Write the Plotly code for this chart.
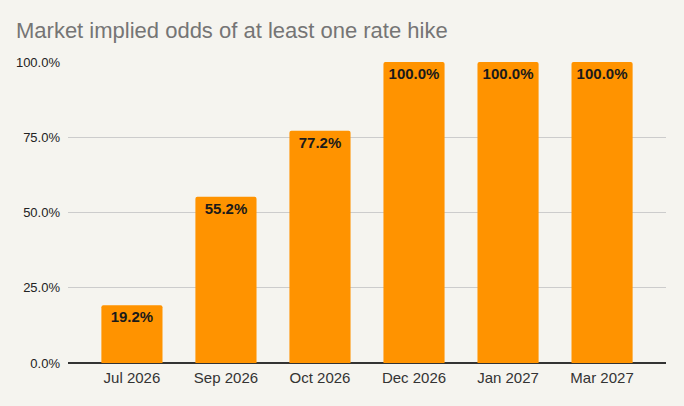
import plotly.graph_objects as go

categories = ["Jul 2026", "Sep 2026", "Oct 2026", "Dec 2026", "Jan 2027", "Mar 2027"]
odds = [19.2, 55.2, 77.2, 100.0, 100.0, 100.0]
y_ticks = [0, 25, 50, 75, 100]
title_text = "Market implied odds of at least one rate hike"

FONT = "Liberation Sans, Arial, sans-serif"
BG = "#f5f4ef"

fig = go.Figure(
    go.Bar(
        x=categories,
        y=odds,
        marker=dict(color="#ff9300", cornerradius=2, line=dict(width=0)),
        width=0.65,
        texttemplate="<b>%{y:.1f}%</b>",
        textposition="inside",
        insidetextanchor="end",
        textangle=0,
        textfont=dict(family=FONT, size=15, color="#1a1a1a"),
        hoverinfo="skip",
    )
)

fig.update_layout(
    width=684,
    height=406,
    paper_bgcolor=BG,
    plot_bgcolor=BG,
    margin=dict(l=68, r=18, t=62, b=43),
    showlegend=False,
    title=dict(
        text=title_text,
        font=dict(family=FONT, size=22, color="#757575"),
        xref="container",
        yref="container",
        x=16 / 684,
        xanchor="left",
        y=1 - 30 / 406,
        yanchor="middle",
    ),
    font=dict(family=FONT),
    xaxis=dict(
        range=[-0.68, 5.68],
        showgrid=False,
        showline=False,
        ticks="",
        ticklabelstandoff=4,
        tickfont=dict(family=FONT, size=15, color="#333333"),
        fixedrange=True,
    ),
    yaxis=dict(
        range=[0, 100],
        tickvals=y_ticks,
        ticktext=[f"{v:.1f}%" for v in y_ticks],
        showgrid=True,
        gridcolor="#cccccc",
        gridwidth=1,
        zeroline=True,
        zerolinecolor="#333333",
        zerolinewidth=1.5,
        showline=False,
        ticks="",
        ticklabelstandoff=7,
        tickfont=dict(family=FONT, size=13, color="#222222"),
        fixedrange=True,
    ),
)

fig.write_html("out.html")
